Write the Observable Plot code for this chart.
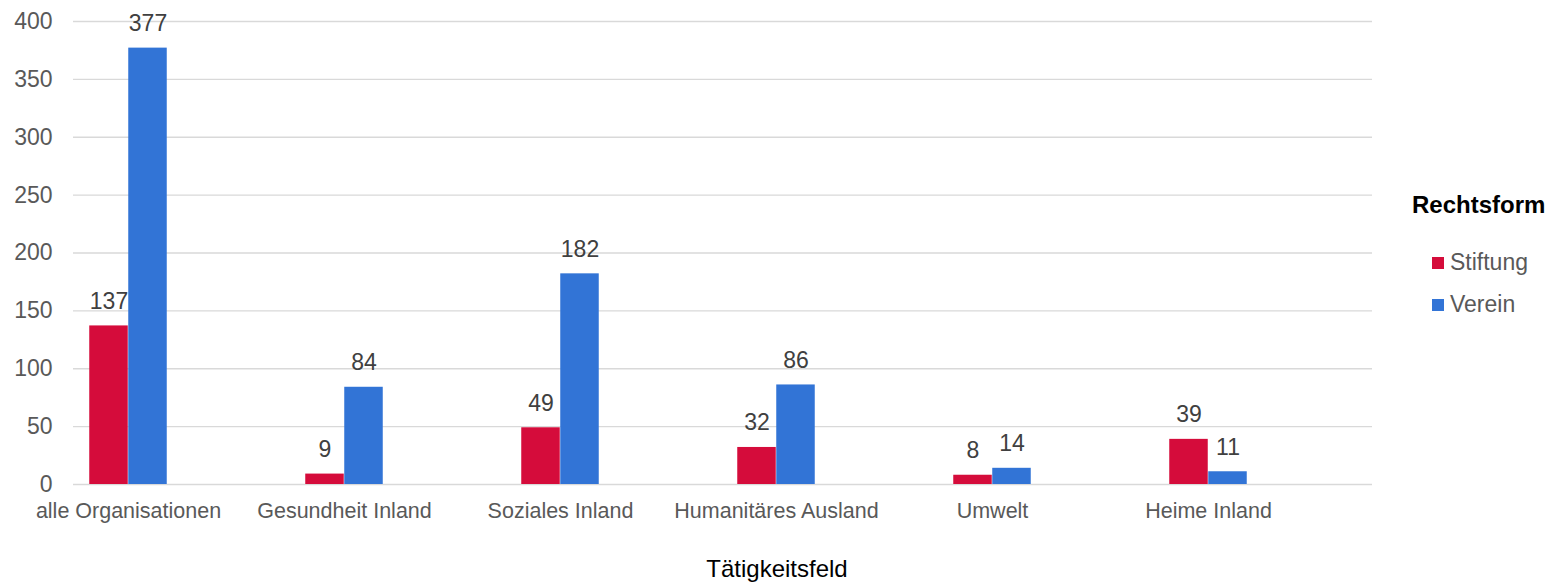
<!DOCTYPE html>
<html>
<head>
<meta charset="utf-8">
<script src="https://cdn.jsdelivr.net/npm/d3@7"></script>
<script src="https://cdn.jsdelivr.net/npm/@observablehq/plot@0.6"></script>
<style>
  html, body { margin: 0; padding: 0; background: #fff; }
  #wrap { position: relative; width: 1554px; height: 582px; font-family: "Liberation Sans", Arial, sans-serif; }
  #caption { width: 1554px; height: 42px; box-sizing: border-box; padding-top: 8px; text-align: center; font-size: 24px; line-height: 42px; color: #000; }
  .leg { position: absolute; white-space: nowrap; }
  .sw { position: absolute; width: 12px; height: 12px; }
</style>
</head>
<body>
<div id="wrap"></div>
<script>
const categories = ["alle Organisationen", "Gesundheit Inland", "Soziales Inland", "Humanitäres Ausland", "Umwelt", "Heime Inland"];
const seriesNames = ["Stiftung", "Verein"];
const stiftung = [137, 9, 49, 32, 8, 39];
const verein = [377, 84, 182, 86, 14, 11];
const yTicks = [0, 50, 100, 150, 200, 250, 300, 350, 400];
const colors = ["#D50C3B", "#3274D6"];

const rowsS = categories.map((c, i) => ({cat: c, series: "Stiftung", value: stiftung[i]}));
const rowsV = categories.map((c, i) => ({cat: c, series: "Verein", value: verein[i]}));

const step = (1372 - 73) / categories.length;
const half = step / 2;
const barW = 39;

const plot = Plot.plot({
  width: 1554,
  height: 540,
  marginLeft: 73,
  marginRight: 182,
  marginTop: 21,
  marginBottom: 56,
  style: {fontFamily: '"Liberation Sans", Arial, sans-serif', background: "#fff"},
  x: {type: "band", domain: categories, range: [73 - step / 4, 1372 - step / 4], padding: 0, label: null},
  y: {domain: [0, 400], label: null},
  color: {domain: seriesNames, range: colors},
  marks: [
    Plot.ruleY(yTicks, {stroke: "#d9d9d9", strokeWidth: 1.3}),
    Plot.barY(rowsS, {x: "cat", y: "value", fill: colors[0], insetLeft: half - barW, insetRight: half}),
    Plot.barY(rowsV, {x: "cat", y: "value", fill: colors[1], insetLeft: half, insetRight: half - barW}),
    Plot.text(rowsS, {x: "cat", y: "value", text: d => String(d.value), dx: -barW / 2, dy: -17, lineAnchor: "bottom", fill: "#404040", fontSize: 23}),
    Plot.text(rowsV, {x: "cat", y: "value", text: d => String(d.value), dx: barW / 2, dy: -17, lineAnchor: "bottom", fill: "#404040", fontSize: 23}),
    Plot.axisY({ticks: yTicks, tickSize: 0, tickPadding: 21, fontSize: 23, fill: "#595959", label: null}),
    Plot.axisX({tickSize: 0, tickPadding: 18, fontSize: 21.5, fill: "#595959", label: null})
  ]
});

const wrap = document.getElementById("wrap");
wrap.appendChild(plot);

const cap = document.createElement("div");
cap.id = "caption";
cap.textContent = "Tätigkeitsfeld";
wrap.appendChild(cap);

function addLegText(txt, left, top, size, weight, color) {
  const d = document.createElement("div");
  d.className = "leg";
  d.textContent = txt;
  d.style.left = left + "px";
  d.style.top = top + "px";
  d.style.fontSize = size + "px";
  d.style.lineHeight = size + "px";
  d.style.fontWeight = weight;
  d.style.color = color;
  wrap.appendChild(d);
}
function addSwatch(color, left, top) {
  const s = document.createElement("div");
  s.className = "sw";
  s.style.background = color;
  s.style.left = left + "px";
  s.style.top = top + "px";
  wrap.appendChild(s);
}
addLegText("Rechtsform", 1412, 193, 24, "bold", "#000");
addSwatch(colors[0], 1432, 257);
addLegText(seriesNames[0], 1450, 251, 23, "normal", "#595959");
addSwatch(colors[1], 1432, 299);
addLegText(seriesNames[1], 1450, 293, 23, "normal", "#595959");
</script>
</body>
</html>
